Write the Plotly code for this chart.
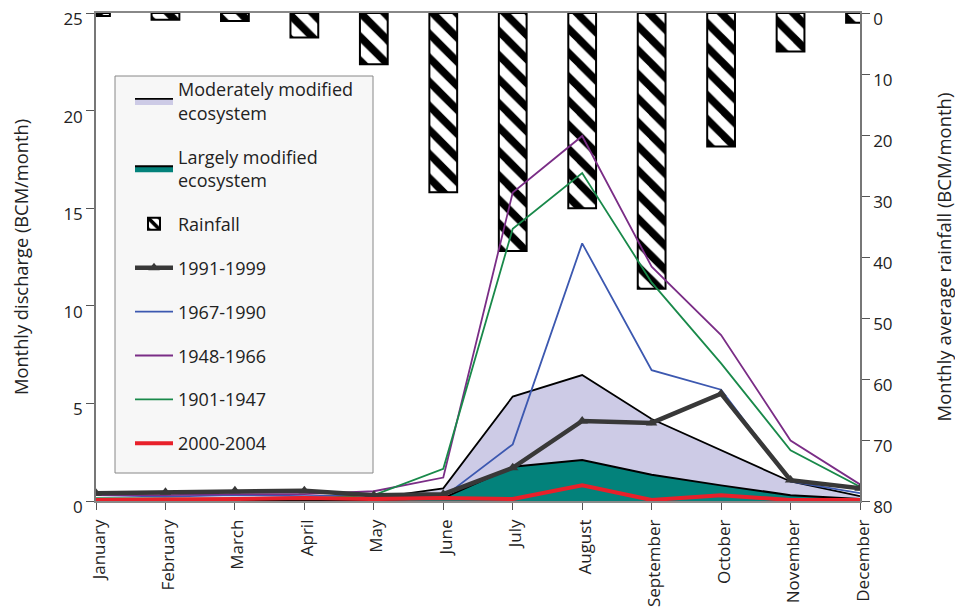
import plotly.graph_objects as go

months = ["January", "February", "March", "April", "May", "June", "July",
          "August", "September", "October", "November", "December"]

rainfall = [0.5, 1.1, 1.3, 4.0, 8.4, 29.4, 39.0, 32.0, 45.2, 21.9, 6.3, 1.6]

moderately_modified = [0.05, 0.05, 0.05, 0.05, 0.15, 0.65, 5.35, 6.45, 4.2, 2.6, 1.0, 0.25]
largely_modified = [0.02, 0.02, 0.02, 0.02, 0.05, 0.15, 1.75, 2.1, 1.35, 0.8, 0.3, 0.1]

p1991_1999 = [0.4, 0.45, 0.53, 0.53, 0.3, 0.35, 1.7, 4.1, 4.0, 5.5, 1.07, 0.65]
p1967_1990 = [0.3, 0.22, 0.3, 0.25, 0.3, 0.2, 2.9, 13.2, 6.7, 5.7, 1.0, 0.4]
p1948_1966 = [0.3, 0.3, 0.35, 0.35, 0.5, 1.2, 15.8, 18.7, 12.0, 8.5, 3.1, 0.85]
p1901_1947 = [0.15, 0.12, 0.12, 0.12, 0.3, 1.65, 13.95, 16.8, 11.2, 7.05, 2.6, 0.73]
p2000_2004 = [0.05, 0.05, 0.1, 0.15, 0.1, 0.15, 0.1, 0.8, 0.05, 0.3, 0.05, 0.05]

FONT = "Open Sans"

fig = go.Figure()

# Rainfall bars on primary y (right side, reversed) so discharge lines draw above
fig.add_trace(go.Bar(
    x=months, y=rainfall, yaxis="y", name="Rainfall", width=0.4,
    marker=dict(color="white", line=dict(color="black", width=2),
                pattern=dict(shape="\\", fgcolor="#000000", bgcolor="#ffffff",
                             fgopacity=1, size=17, solidity=0.45, fillmode="replace")),
    legendrank=3, legendgroup="g3",
))

fig.add_trace(go.Scatter(
    x=months, y=moderately_modified, yaxis="y2", name="Moderately modified<br>ecosystem",
    mode="lines", fill="tozeroy", fillcolor="#cdcbe6",
    line=dict(color="black", width=1.8), legendrank=1, legendgroup="g1",
))
fig.add_trace(go.Scatter(
    x=months, y=largely_modified, yaxis="y2", name="Largely modified<br>ecosystem",
    mode="lines", fill="tozeroy", fillcolor="#03827b",
    line=dict(color="black", width=2), legendrank=2, legendgroup="g2",
))
fig.add_trace(go.Scatter(
    x=months, y=p1967_1990, yaxis="y2", name="1967-1990", mode="lines",
    line=dict(color="#3c58b0", width=1.8), legendrank=5, legendgroup="g5",
))
fig.add_trace(go.Scatter(
    x=months, y=p1948_1966, yaxis="y2", name="1948-1966", mode="lines",
    line=dict(color="#7a2d86", width=1.8), legendrank=6, legendgroup="g6",
))
fig.add_trace(go.Scatter(
    x=months, y=p1901_1947, yaxis="y2", name="1901-1947", mode="lines",
    line=dict(color="#19894a", width=1.8), legendrank=7, legendgroup="g7",
))
fig.add_trace(go.Scatter(
    x=months, y=p1991_1999, yaxis="y2", name="1991-1999", mode="lines+markers",
    line=dict(color="#383838", width=4.5),
    marker=dict(symbol="triangle-up", size=10, color="#383838"),
    legendrank=4, legendgroup="g4",
))
fig.add_trace(go.Scatter(
    x=months, y=p2000_2004, yaxis="y2", name="2000-2004", mode="lines",
    line=dict(color="#e8202a", width=4), legendrank=8, legendgroup="g8",
))

# page body has an 8px margin: figure occupies screen (8..963, 8..612)
OFF = 8
W, H = 963 - OFF, 612 - OFF
L, R, T, B = 96 - OFF, 963 - 860, 13 - OFF, 612 - 501
pw, ph = W - L - R, H - T - B


def px_x(p):
    return (p - OFF - L) / pw


def px_y(p):
    return (H + OFF - B - p) / ph


fig.add_shape(type="rect", xref="paper", yref="paper",
              x0=px_x(115), x1=px_x(373), y0=px_y(473), y1=px_y(76),
              fillcolor="#f7f7f7", line=dict(color="#888888", width=1), layer="above")

fig.update_layout(
    width=W, height=H,
    margin=dict(l=L, r=R, t=T, b=B, autoexpand=False),
    plot_bgcolor="white", paper_bgcolor="white",
    font=dict(family=FONT, size=17, color="#222222"),
    barmode="overlay",
    showlegend=True,
    legend=dict(x=px_x(130), y=px_y(71), xanchor="left", yanchor="top",
                bgcolor="rgba(0,0,0,0)", borderwidth=0, itemwidth=38,
                font=dict(family=FONT, size=18, color="#222222"),
                tracegroupgap=17.5, traceorder="grouped"),
    xaxis=dict(type="category", range=[0, 11], showline=True, linecolor="#888888",
               linewidth=1.5, mirror=True, ticks="outside", ticklen=7, tickcolor="#555555",
               tickangle=-90, showgrid=False, tickfont=dict(size=17), automargin=False,
               ticklabelshift=3, ticklabelstandoff=3),
    yaxis=dict(range=[80, 0], side="right", showline=True, linecolor="#777777", linewidth=1.5,
               ticks="outside", ticklen=8, tickcolor="#555555", dtick=10, showgrid=False,
               zeroline=False, automargin=False, ticklabelshift=-6, ticklabeloverflow="allow",
               title=dict(text="Monthly average rainfall (BCM/month)", font=dict(size=18.5),
                          standoff=46),
               tickfont=dict(size=17)),
    yaxis2=dict(range=[0, 25], side="left", overlaying="y", showline=True, linecolor="#777777",
                linewidth=1.5, ticks="outside", ticklen=8, tickcolor="#555555", dtick=5,
                showgrid=False, zeroline=False, automargin=False, ticklabelshift=6,
                ticklabeloverflow="allow",
                title=dict(text="Monthly discharge (BCM/month)", font=dict(size=18.3), standoff=32),
                tickfont=dict(size=17)),
)

fig.write_html("out.html")
